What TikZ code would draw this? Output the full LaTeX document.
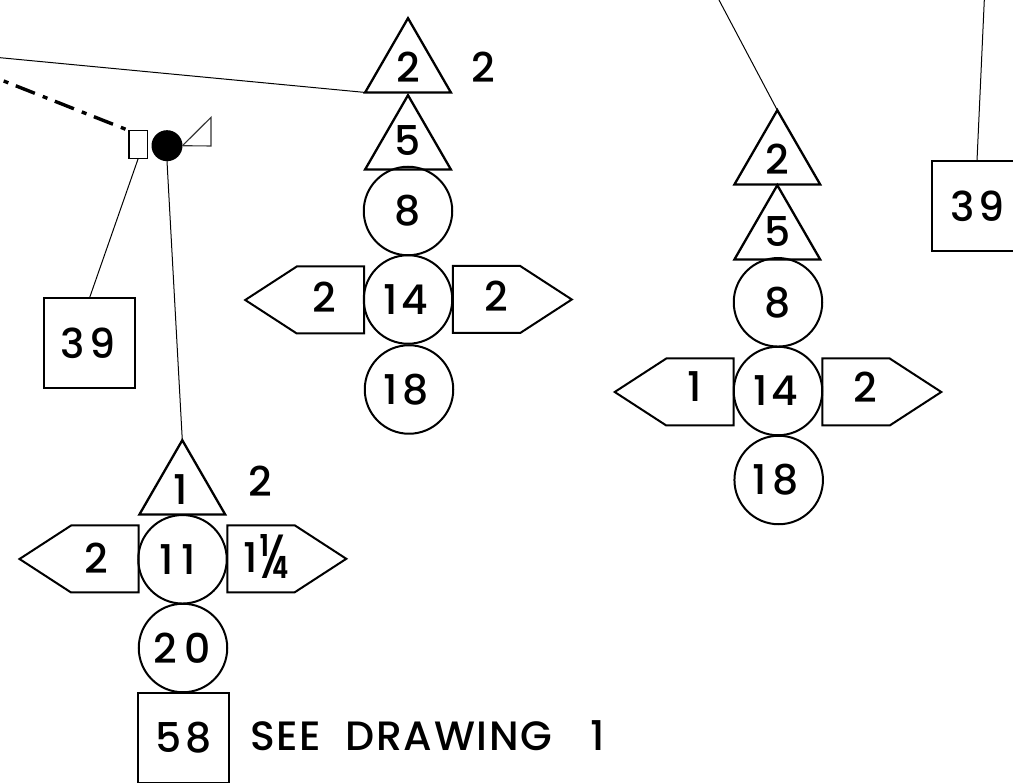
\documentclass[tikz,border=0pt]{standalone}
\usepackage{fontspec}
\usepackage{graphicx}
\setmainfont{Poppins}[UprightFont={* Medium}]
\usetikzlibrary{shapes.geometric,shapes.symbols}
\tikzset{
	lbl/.style={font=\fontsize{41}{41}\selectfont, inner sep=0pt, outer sep=0pt},
	ring/.style={lbl, draw, circle, line width=2pt, minimum size=88.5pt},
	box/.style={lbl, draw, rectangle, line width=2pt, minimum width=91pt, minimum height=90pt},
	tri/.style={lbl, draw, regular polygon, regular polygon sides=3, line width=2.3pt, minimum size=99pt},
	flagl/.style={draw, signal, signal to=west, signal from=nowhere, signal pointer angle=66, line width=2pt, minimum width=119pt, minimum height=67pt, inner sep=0pt, outer sep=0pt},
	flagr/.style={draw, signal, signal to=east, signal from=nowhere, signal pointer angle=66, line width=2pt, minimum width=119pt, minimum height=67pt, inner sep=0pt, outer sep=0pt},
	lead/.style={line width=1pt},
}
\begin{document}
\begin{tikzpicture}[x=1pt, y=-1pt]
	\useasboundingbox (0, 0) rectangle (1013, 783);
	
	%%%%% LEFT FITTING %%%%%
	\node[draw, rectangle, line width=1.3pt, minimum width=18.5pt, minimum height=27.5pt, inner sep=0pt, outer sep=0pt] (valve) at (138.3, 144.5) {};
	\node[circle, fill=black, minimum size=31pt, inner sep=0pt, outer sep=0pt] (joint) at (167, 145.7) {};
	\coordinate (tipa) at (211, 117.3);
	\coordinate (tipb) at (211, 146);
	\draw[line width=1.1pt, draw=black!80] (joint.east) -- (tipa) -- (tipb) -- (joint.east);
	\coordinate (dashstart) at (3.7, 81);
	\coordinate (dashend) at (125.5, 129.2);
	\draw[line width=3.4pt, dash pattern=on 5pt off 8pt on 20.5pt off 8.5pt] (dashstart) -- (dashend);
	
	%%%%% LEFT STACK %%%%%
	\node[box] (sqa) at (89.5, 343) {3\kern5pt 9\kern3pt};
	\node[tri] (tria) at (182.3, 489.7) {1\kern3pt};
	\node[ring] (rea) at (182.5, 559.3) {1\kern8pt 1\kern9pt};
	\node[ring] (reb) at (183, 648) {2\kern7pt 0\kern2pt};
	\node[box] (sqb) at (183.2, 737.7) {5\kern4pt 8};
	\node[flagl] (fla) at (104.8, 559) {};
	\node[flagr] (flb) at (261, 558.8) {};
	\node[lbl] (tfla) at (96.7, 558) {2};
	\node[lbl] (tflb) at (266.7, 556) {1\kern2pt\raisebox{-6pt}{\resizebox{30pt}{44pt}{¼}}};
	\node[lbl] (side) at (260.7, 481.7) {2};
	\node[lbl, anchor=west] (note) at (250, 736) {\addfontfeature{LetterSpace=4}SEE\ \ DRAWING\ \ \kern14pt 1};
	\draw[lead] (valve.south) -- (sqa.north);
	\draw[lead] (joint.south) -- (tria.corner 1);
	
	%%%%% MIDDLE STACK %%%%%
	\node[tri] (trib) at (408, 67.7) {2};
	\node[tri] (tric) at (408, 144.7) {\raisebox{4pt}[\height][\depth]{5}};
	\node[ring] (rec) at (408, 211) {8};
	\node[ring] (red) at (408, 299.5) {1\kern4pt 4\kern5pt};
	\node[ring] (ree) at (409, 389.5) {1\kern5pt 8\kern6pt};
	\node[flagl] (flc) at (330.5, 300) {};
	\node[flagr] (fld) at (486.5, 299.5) {};
	\node[lbl] (tflc) at (324, 297) {2};
	\node[lbl] (tfld) at (496, 296) {2};
	\node[lbl] (sidb) at (483, 67) {2};
	\coordinate (linea) at (0, 57.7);
	\draw[lead] (linea) -- (trib.corner 2);
	
	%%%%% RIGHT STACK %%%%%
	\node[tri] (trid) at (777.3, 159.7) {2};
	\node[tri] (trie) at (777.3, 234.7) {\raisebox{3pt}[\height][\depth]{5}};
	\node[ring] (ref) at (778, 302.3) {8};
	\node[ring] (reg) at (778, 391) {1\kern4pt 4\kern5pt};
	\node[ring] (reh) at (778.7, 480) {1\kern5pt 8\kern6pt};
	\node[flagl] (fle) at (700, 392) {};
	\node[flagr] (flf) at (856, 392) {};
	\node[lbl] (tfle) at (695, 387) {1};
	\node[lbl] (tflf) at (865.7, 387) {2};
	\node[box] (sqc) at (977.8, 206) {3\kern4pt 9};
	\coordinate (lineb) at (719, 0);
	\coordinate (linec) at (984.3, 0);
	\draw[lead] (lineb) -- (trid.corner 1);
	\draw[lead] (linec) -- (977, 160.7);
\end{tikzpicture}
\end{document}
